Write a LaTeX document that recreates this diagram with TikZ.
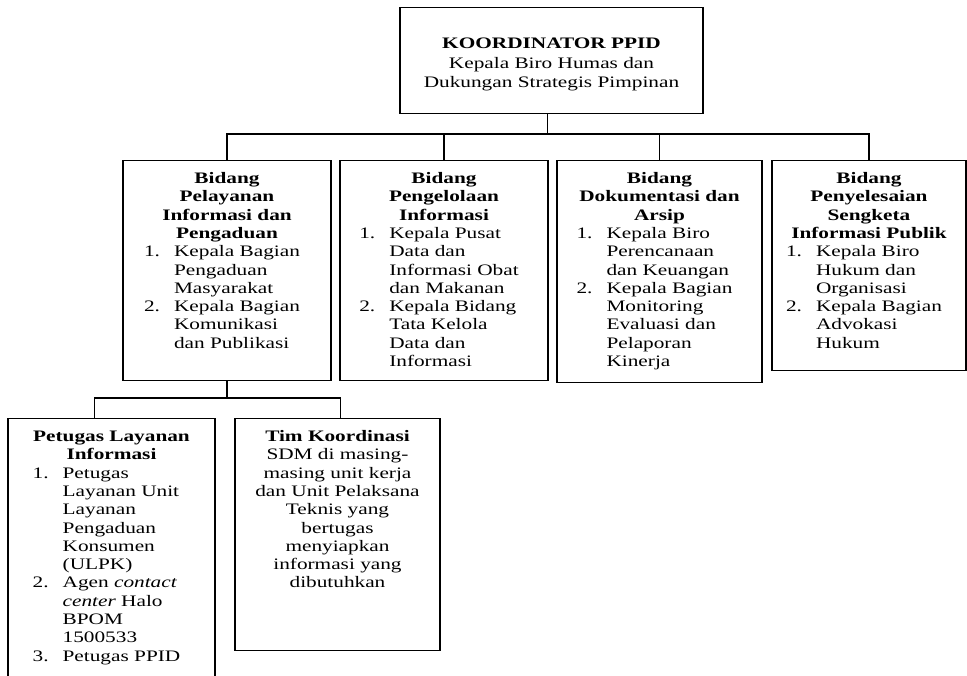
\documentclass[tikz,border=0pt]{standalone}
\usepackage{fontspec}
\setmainfont{Liberation Serif}[FakeStretch=1.33]
\usepackage{array}
\newenvironment{daftar}{\begin{tabular}[t]{@{}p{30pt}@{}l@{\hspace{10pt}}}}{\end{tabular}}

\begin{document}
\begin{tikzpicture}[x=1pt, y=-1pt,
    kotak/.style={rectangle, draw, line width=1.1pt, anchor=north, align=center,
      inner xsep=4pt, inner ysep=4pt, text height=19pt,
      font=\fontsize{16pt}{18.3pt}\selectfont}]
    \useasboundingbox (0,0) rectangle (967,676);
    \clip (0,0) rectangle (967,676);

    \begin{scope}
      \node [kotak, text width=295pt, text height=37pt, text depth=61pt, font=\fontsize{16pt}{19.5pt}\selectfont] (top) at (551.5,7)
        {\textbf{KOORDINATOR PPID}\\ Kepala Biro Humas dan\\ Dukungan Strategis Pimpinan};

      \node [kotak, text width=200pt, text depth=193pt] (bid1) at (227,160)
        {\textbf{Bidang}\\ \textbf{Pelayanan}\\ \textbf{Informasi dan}\\ \textbf{Pengaduan}\\
         \begin{daftar}
           1. & Kepala Bagian\\
              & Pengaduan\\
              & Masyarakat\\
           2. & Kepala Bagian\\
              & Komunikasi\\
              & dan Publikasi
         \end{daftar}};
      \node [kotak, text width=200pt, text depth=193pt] (bid2) at (444,160)
        {\textbf{Bidang}\\ \textbf{Pengelolaan}\\ \textbf{Informasi}\\
         \begin{daftar}
           1. & Kepala Pusat\\
              & Data dan\\
              & Informasi Obat\\
              & dan Makanan\\
           2. & Kepala Bidang\\
              & Tata Kelola\\
              & Data dan\\
              & Informasi
         \end{daftar}};
      \node [kotak, text width=197pt, text depth=195pt] (bid3) at (659.5,160)
        {\textbf{Bidang}\\ \textbf{Dokumentasi dan}\\ \textbf{Arsip}\\
         \begin{daftar}
           1. & Kepala Biro\\
              & Perencanaan\\
              & dan Keuangan\\
           2. & Kepala Bagian\\
              & Monitoring\\
              & Evaluasi dan\\
              & Pelaporan\\
              & Kinerja
         \end{daftar}};
      \node [kotak, text width=186pt, text depth=183pt] (bid4) at (869,160)
        {\textbf{Bidang}\\ \textbf{Penyelesaian}\\ \textbf{Sengketa}\\ \textbf{Informasi Publik}\\
         \begin{daftar}
           1. & Kepala Biro\\
              & Hukum dan\\
              & Organisasi\\
           2. & Kepala Bagian\\
              & Advokasi\\
              & Hukum
         \end{daftar}};

      \node [kotak, text width=199pt, text depth=300pt] (ptg) at (111.5,418)
        {\textbf{Petugas Layanan}\\ \textbf{Informasi}\\
         \begin{daftar}
           1. & Petugas\\
              & Layanan Unit\\
              & Layanan\\
              & Pengaduan\\
              & Konsumen\\
              & (ULPK)\\
           2. & Agen \textit{contact}\\
              & \textit{center} Halo\\
              & BPOM\\
              & 1500533\\
           3. & Petugas PPID
         \end{daftar}};
      \node [kotak, text width=197pt, text depth=205pt] (tim) at (337.5,418)
        {\textbf{Tim Koordinasi}\\ SDM di masing-\\ masing unit kerja\\ dan Unit Pelaksana\\
         Teknis yang\\ bertugas\\ menyiapkan\\ informasi yang\\ dibutuhkan};
    \end{scope}

    \begin{scope}[line width=1.1pt]
      \coordinate (bus1) at (0,134);
      \coordinate (bus2) at (0,398);
      \draw ([xshift=-4pt]top.south) -- ([xshift=-4pt]top.south |- bus1);
      \draw (bid1.north) -- (bid1.north |- bus1) -- (bid4.north |- bus1) -- (bid4.north);
      \draw (bid2.north) -- (bid2.north |- bus1);
      \draw (bid3.north) -- (bid3.north |- bus1);
      \draw (bid1.south) -- (bid1.south |- bus2);
      \draw ([xshift=-17pt]ptg.north) -- ([xshift=-17pt]ptg.north |- bus2)
        -- ([xshift=3pt]tim.north |- bus2) -- ([xshift=3pt]tim.north);
    \end{scope}
\end{tikzpicture}
\end{document}
